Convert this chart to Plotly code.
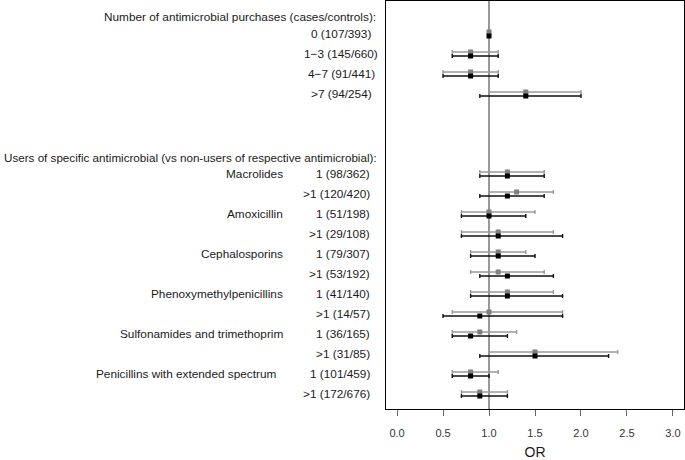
import plotly.graph_objects as go

# ---- data ----
row_labels = ["0 (107/393)", "1\u22123 (145/660)", "4\u22127 (91/441)", ">7 (94/254)",
              "1 (98/362)", ">1 (120/420)", "1 (51/198)", ">1 (29/108)",
              "1 (79/307)", ">1 (53/192)", "1 (41/140)", ">1 (14/57)",
              "1 (36/165)", ">1 (31/85)", "1 (101/459)", ">1 (172/676)"]
drug_names = ["Macrolides", "Amoxicillin", "Cephalosporins", "Phenoxymethylpenicillins",
              "Sulfonamides and trimethoprim", "Penicillins with extended spectrum"]
header1 = "Number of antimicrobial purchases (cases/controls):"
header2 = "Users of specific antimicrobial (vs non-users of respective antimicrobial):"

gray_or = [1.0, 0.8, 0.8, 1.4, 1.2, 1.3, 1.0, 1.1, 1.1, 1.1, 1.2, 1.0, 0.9, 1.5, 0.8, 0.9]
gray_lo = [1.0, 0.6, 0.5, 1.0, 0.9, 1.0, 0.7, 0.7, 0.8, 0.8, 0.8, 0.6, 0.6, 1.0, 0.6, 0.7]
gray_hi = [1.0, 1.1, 1.1, 2.0, 1.6, 1.7, 1.5, 1.7, 1.4, 1.6, 1.7, 1.8, 1.3, 2.4, 1.1, 1.2]

black_or = [1.0, 0.8, 0.8, 1.4, 1.2, 1.2, 1.0, 1.1, 1.1, 1.2, 1.2, 0.9, 0.8, 1.5, 0.8, 0.9]
black_lo = [1.0, 0.6, 0.5, 0.9, 0.9, 0.9, 0.7, 0.7, 0.8, 0.9, 0.8, 0.5, 0.6, 0.9, 0.6, 0.7]
black_hi = [1.0, 1.1, 1.1, 2.0, 1.6, 1.6, 1.4, 1.8, 1.5, 1.7, 1.8, 1.8, 1.2, 2.3, 1.0, 1.2]

x_ticks = [0.0, 0.5, 1.0, 1.5, 2.0, 2.5, 3.0]

# ---- layout helpers ----
W, H = 685, 460
ML, MR, MT, MB = 386, 1, 1, 51
pw = W - ML - MR

def px2paper(p):
    return (p - ML) / pw

row_y = list(range(4)) + list(range(7, 19))
gray_y = [y - 0.1 for y in row_y]
black_y = [y + 0.1 for y in row_y]

FONT = "Liberation Sans, Arial, sans-serif"
TXT = "#1a1a1a"
FS = 11.8

fig = go.Figure()

fig.add_shape(type="line", xref="x", yref="paper", x0=1, x1=1, y0=0, y1=1,
              line=dict(color="#333333", width=1), layer="below")

fig.add_trace(go.Scatter(
    x=gray_or, y=gray_y, mode="markers",
    marker=dict(symbol="square", size=5, color="#7f7f7f"),
    error_x=dict(type="data", symmetric=False,
                 array=[h - o for h, o in zip(gray_hi, gray_or)],
                 arrayminus=[o - l for o, l in zip(gray_or, gray_lo)],
                 color="#9a9a9a", thickness=1.4, width=2),
    showlegend=False, hoverinfo="skip"))

fig.add_trace(go.Scatter(
    x=black_or, y=black_y, mode="markers",
    marker=dict(symbol="square", size=5, color="#000000"),
    error_x=dict(type="data", symmetric=False,
                 array=[h - o for h, o in zip(black_hi, black_or)],
                 arrayminus=[o - l for o, l in zip(black_or, black_lo)],
                 color="#111111", thickness=1.4, width=2),
    showlegend=False, hoverinfo="skip"))

ann = []
ann.append(dict(text=header1, x=px2paper(378), y=-0.85, xanchor="right", fs=FS))
ann.append(dict(text=header2, x=px2paper(2), y=6.15, xanchor="left", fs=11.65))
for i in range(4):
    ann.append(dict(text=row_labels[i], x=px2paper(341), y=row_y[i], xanchor="center", fs=FS))
for i in range(4, 16):
    ann.append(dict(text=row_labels[i], x=px2paper(372), y=row_y[i], xanchor="right", fs=FS))
for j, name in enumerate(drug_names):
    xr = 278 if j == 5 else 285
    ann.append(dict(text=name, x=px2paper(xr), y=row_y[4 + 2 * j], xanchor="right", fs=FS))

annotations = []
for a in ann:
    fs = a.pop("fs")
    a.update(xref="paper", yref="y", showarrow=False, yanchor="middle",
             font=dict(family=FONT, size=fs, color=TXT))
    annotations.append(a)

fig.update_layout(
    width=W, height=H,
    margin=dict(l=ML, r=MR, t=MT, b=MB),
    paper_bgcolor="white", plot_bgcolor="white",
    annotations=annotations,
    font=dict(family=FONT, size=FS, color=TXT),
    xaxis=dict(range=[-0.12, 3.12], tickvals=x_ticks, tickformat=".1f",
               showgrid=False, zeroline=False,
               showline=True, mirror=True, linecolor="#000000", linewidth=1,
               ticks="outside", ticklen=6, tickcolor="#666666", tickwidth=1,
               ticklabelstandoff=8,
               tickfont=dict(family=FONT, size=11, color="#333333"),
               title=dict(text="OR", font=dict(family=FONT, size=14, color=TXT), standoff=9)),
    yaxis=dict(range=[18.75, -1.65], showticklabels=False, showgrid=False,
               zeroline=False, showline=True, mirror=True, linecolor="#000000",
               linewidth=1, ticks=""),
)

fig.write_html("out.html", config={"displayModeBar": False},
               post_script="document.body.style.margin='0';")
